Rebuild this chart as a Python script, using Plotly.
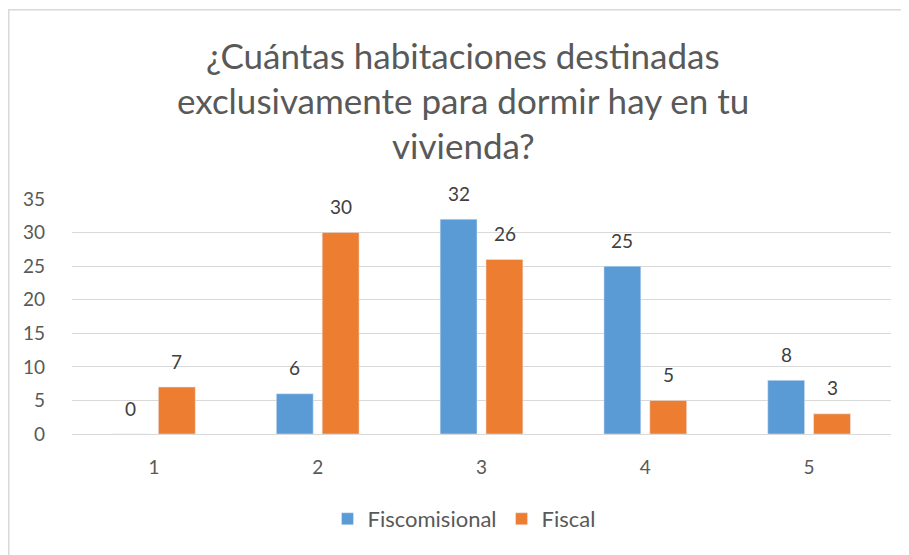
import plotly.graph_objects as go

categories = ["1", "2", "3", "4", "5"]
fiscomisional = [0, 6, 32, 25, 8]
fiscal = [7, 30, 26, 5, 3]
y_ticks = [0, 5, 10, 15, 20, 25, 30, 35]
title_lines = ["¿Cuántas habitaciones destinadas",
               "exclusivamente para dormir hay en tu",
               "vivienda?"]

FONT = "Lato, Calibri, Carlito, sans-serif"
GREY = "#595959"
OFF = 8                      # page body margin
L, T, W, H = 72 - OFF, 199 - OFF, 819, 235  # plot area in figure pixels


def px_(sx):   # screen x -> paper x
    return (sx - OFF - L) / W


def py_(sy):   # screen y -> paper y
    return (T + H - (sy - OFF)) / H


fig = go.Figure()
fig.add_trace(go.Bar(name="Fiscomisional", x=categories, y=fiscomisional, marker_color="#5b9bd5"))
fig.add_trace(go.Bar(name="Fiscal", x=categories, y=fiscal, marker_color="#ed7d31"))

annotations = []
for i, v in enumerate(fiscomisional):
    annotations.append(dict(x=i, y=v, xref="x", yref="y", text=str(v), showarrow=False,
                            xshift=-23, yshift=26, font=dict(size=19, color="#404040", family=FONT)))
for i, v in enumerate(fiscal):
    annotations.append(dict(x=i, y=v, xref="x", yref="y", text=str(v), showarrow=False,
                            xshift=23, yshift=26, font=dict(size=19, color="#404040", family=FONT)))
for line, sy in zip(title_lines, [55, 100, 145]):
    annotations.append(dict(x=px_(463), y=py_(sy), xref="paper", yref="paper", text=line,
                            showarrow=False, xanchor="center", yanchor="middle",
                            font=dict(size=35, color=GREY, family=FONT)))

fig.update_layout(
    width=909, height=555,
    margin=dict(l=L, r=909 - L - W, t=T, b=555 - T - H, autoexpand=False),
    paper_bgcolor="white", plot_bgcolor="white",
    font=dict(family=FONT, color=GREY, size=18),
    barmode="group", bargap=0.44, bargroupgap=0.196,
    showlegend=True,
    legend=dict(orientation="h", x=px_(464), xanchor="center", y=py_(519), yanchor="middle",
                font=dict(size=22, color=GREY), traceorder="normal"),
    xaxis=dict(type="category", range=[-0.5, 4.5], showgrid=False, showline=False, ticks="",
               tickfont=dict(size=19, color=GREY), ticklabelstandoff=20),
    yaxis=dict(range=[0, 35], tickvals=y_ticks, showgrid=True, gridcolor="#d9d9d9", gridwidth=1,
               zeroline=True, zerolinecolor="#d9d9d9", zerolinewidth=1,
               tickfont=dict(size=19, color=GREY), ticklabelstandoff=26),
    annotations=annotations,
    shapes=[dict(type="rect", xref="paper", yref="paper",
                 x0=px_(8.75), x1=px_(960),
                 y0=py_(600), y1=py_(9.75),
                 line=dict(color="#d9d9d9", width=1.5), fillcolor="rgba(0,0,0,0)", layer="below")],
)

fig.write_html("out.html")
